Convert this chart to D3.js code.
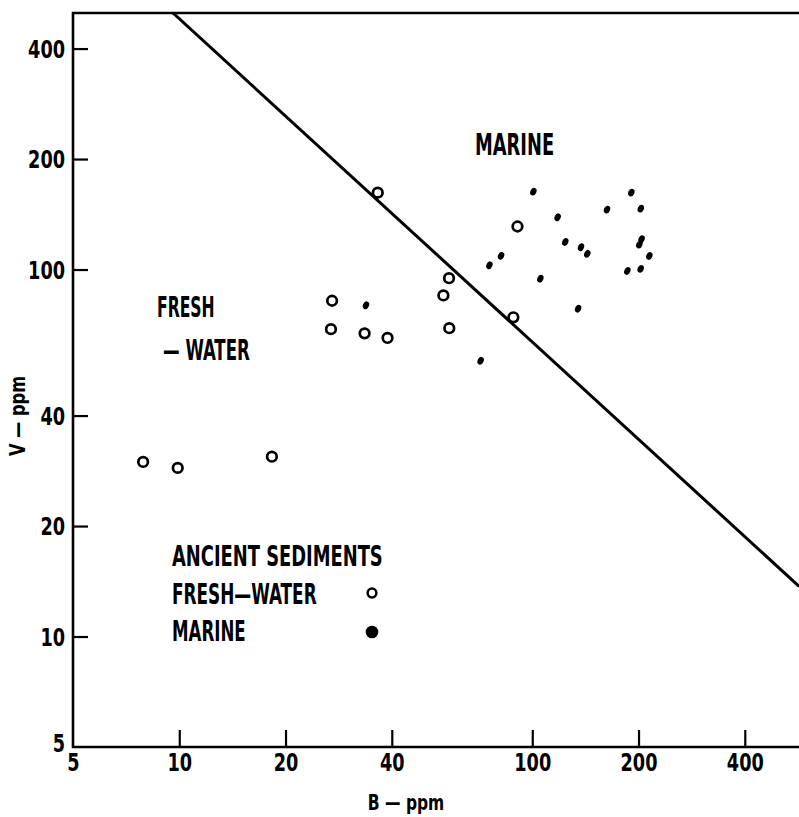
<!DOCTYPE html>
<html>
<head>
<meta charset="utf-8">
<script src="https://cdn.jsdelivr.net/npm/d3@7"></script>
<style>
  body { margin: 0; background: #fff; }
  svg text { font-family: "Liberation Sans Narrow", "DejaVu Sans Condensed", "Arial Narrow", sans-serif; font-weight: bold; fill: #000; }
</style>
</head>
<body>
<div id="chart"></div>
<script>
// ancient sediments, fresh-water (open circles)
const freshB = [7.9, 9.9, 18.3, 27.1, 26.9, 33.5, 38.9, 36.5, 56.0, 58.1, 58.2, 88.4, 90.8];
const freshV = [29.9, 28.8, 30.9, 82.2, 68.8, 67.0, 65.1, 162, 85, 94.7, 69.2, 74.1, 131];

// ancient sediments, marine (filled dots)
const marineB = [100.7, 190.8, 162.8, 203, 118, 124, 137.4, 143.2, 204, 201, 214.6, 185.9, 202.8, 81.6, 75.6, 105.4, 134.8, 71.4, 33.8];
const marineV = [163, 162, 145.6, 146.5, 138.8, 118.9, 115, 110.4, 121, 116.9, 108.9, 99.1, 100.4, 109, 102.7, 94.4, 78.2, 56.4, 79.9];

// dividing line between fresh-water and marine fields
const lineB = [9.6, 570];
const lineV = [500, 13.7];

const xTicks = [5, 10, 20, 40, 100, 200, 400];
const yTicks = [5, 10, 20, 40, 100, 200, 400];

const W = 799, H = 817;
const SQ = 0.82; // squeeze for the condensed lettering

const svg = d3.select("#chart").append("svg")
    .attr("width", W)
    .attr("height", H);

// log scales, one decade ~353px across and ~367px up
const xScale = d3.scaleLog().domain([5, 500]).range([73, 779]);
const yScale = d3.scaleLog().domain([5, 500]).range([747, 13]);

const x0 = xScale(5), y0 = yScale(5), yTop = yScale(500);

svg.append("clipPath").attr("id", "plot")
    .append("rect")
    .attr("x", x0).attr("y", yTop)
    .attr("width", W - x0).attr("height", y0 - yTop);

// frame: left, bottom, top
svg.append("path")
    .attr("d", `M${W},${yTop}H${x0}V${y0}H${W}`)
    .attr("fill", "none")
    .attr("stroke", "#000")
    .attr("stroke-width", 2.6);

// x axis
const gx = svg.append("g")
    .attr("transform", `translate(0,${y0})`)
    .call(d3.axisBottom(xScale).tickValues(xTicks).tickFormat(d3.format("d"))
        .tickSize(-17).tickPadding(7));
gx.select(".domain").remove();
gx.selectAll(".tick line").attr("stroke", "#000").attr("stroke-width", 2.2)
    .filter(d => d === 5).remove();
gx.selectAll(".tick text").style("font-size", "24px")
    .attr("transform", `scale(${SQ},1)`);

// y axis
const gy = svg.append("g")
    .attr("transform", `translate(${x0},0)`)
    .call(d3.axisLeft(yScale).tickValues(yTicks).tickFormat(d3.format("d"))
        .tickSize(-15).tickPadding(8));
gy.select(".domain").remove();
gy.selectAll(".tick line").attr("stroke", "#000").attr("stroke-width", 2.2)
    .filter(d => d === 5).remove();
gy.selectAll(".tick text").style("font-size", "24px").attr("dy", "0.36em")
    .attr("x", -8 / SQ)
    .attr("transform", `scale(${SQ},1)`);
gy.selectAll(".tick").filter(d => d === 5).select("text").attr("dy", "0.2em");

// condensed label helper
function label(txt, x, y, size, sx) {
    svg.append("text")
        .attr("transform", `translate(${x},${y}) scale(${sx},1)`)
        .style("font-size", size + "px")
        .text(txt);
}

// axis titles
svg.append("text")
    .attr("transform", `translate(406,810) scale(${SQ},1)`)
    .attr("text-anchor", "middle")
    .style("font-size", "21px")
    .text("B — ppm");

svg.append("text")
    .attr("transform", `translate(25,416) rotate(-90) scale(${SQ},1)`)
    .attr("text-anchor", "middle")
    .style("font-size", "22px")
    .text("V — ppm");

// field labels
label("MARINE", 475, 155, 31, 0.64);
label("FRESH", 157, 317, 28, 0.62);
label("— WATER", 163, 360, 28, 0.66);

// legend
label("ANCIENT SEDIMENTS", 172, 566, 28, 0.71);
label("FRESH—WATER", 172, 604, 28, 0.67);
label("MARINE", 172, 641, 28, 0.66);

svg.append("circle")
    .attr("cx", 372).attr("cy", 593).attr("r", 4.4)
    .attr("fill", "none").attr("stroke", "#000").attr("stroke-width", 2.5);
svg.append("circle")
    .attr("cx", 372).attr("cy", 632).attr("r", 6.3)
    .attr("fill", "#000");

const plot = svg.append("g").attr("clip-path", "url(#plot)");

// dividing line
plot.append("line")
    .attr("x1", xScale(lineB[0])).attr("y1", yScale(lineV[0]))
    .attr("x2", xScale(lineB[1])).attr("y2", yScale(lineV[1]))
    .attr("stroke", "#000")
    .attr("stroke-width", 3);

// fresh-water points
plot.selectAll(".fresh")
    .data(d3.range(freshB.length))
    .enter().append("circle")
    .attr("class", "fresh")
    .attr("cx", i => xScale(freshB[i]))
    .attr("cy", i => yScale(freshV[i]))
    .attr("r", 4.8)
    .attr("fill", "#fff")
    .attr("stroke", "#000")
    .attr("stroke-width", 2.7);

// marine points (small tilted ovals, like the ink dots)
plot.selectAll(".marine")
    .data(d3.range(marineB.length))
    .enter().append("ellipse")
    .attr("class", "marine")
    .attr("transform", i => `translate(${xScale(marineB[i])},${yScale(marineV[i])}) rotate(25)`)
    .attr("rx", 3)
    .attr("ry", 4)
    .attr("fill", "#000");
</script>
</body>
</html>
